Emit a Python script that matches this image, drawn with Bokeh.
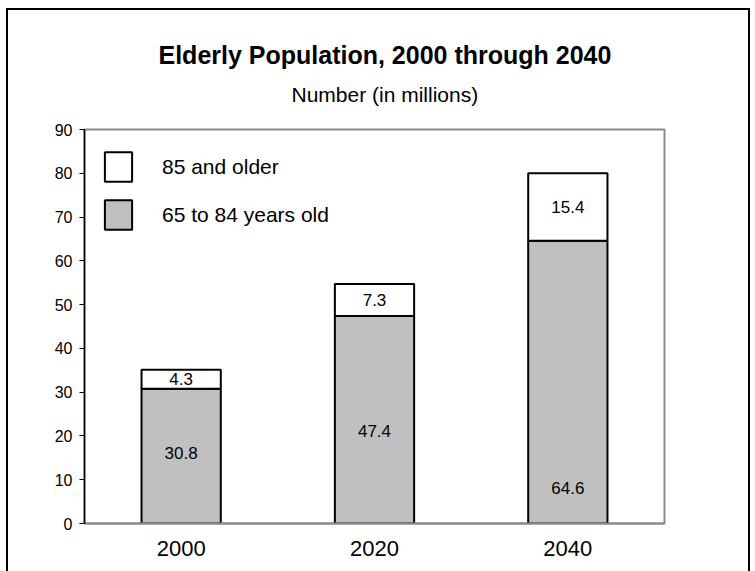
from bokeh.plotting import figure
from bokeh.models import (ColumnDataSource, FactorRange, Legend, LegendItem, Title, LabelSet)
from bokeh.core.properties import value
from bokeh.embed import file_html
from bokeh.resources import INLINE

# ---- data ----
years = ["2000", "2020", "2040"]
age_65_84 = [30.8, 47.4, 64.6]
age_85_plus = [4.3, 7.3, 15.4]
series_names = ["65 to 84 years old", "85 and older"]
y_ticks = [0, 10, 20, 30, 40, 50, 60, 70, 80, 90]
title_text = "Elderly Population, 2000 through 2040"
subtitle_text = "Number (in millions)"

# label positions (y, in millions) of the lower-segment value labels
lower_label_y = [16.0, 21.2, 8.0]

FONT = "Liberation Sans"
GRAY = "#c0c0c0"

src = ColumnDataSource(dict(
    year=years,
    a=age_65_84,
    b=age_85_plus,
    a_lbl=[f"{v:.1f}" for v in age_65_84],
    b_lbl=[f"{v:.1f}" for v in age_85_plus],
    a_y=lower_label_y,
    b_y=[a + b / 2 for a, b in zip(age_65_84, age_85_plus)],
))

p = figure(x_range=FactorRange(*years), y_range=(0, 90),
           width=744, height=571, output_backend="svg", toolbar_location=None,
           min_border_left=76, min_border_right=88, min_border_top=119, min_border_bottom=58,
           styles={"border": "2px solid black", "margin-left": "6px", "margin-top": "8px"})

r = p.vbar_stack(["a", "b"], x="year", width=0.41, source=src,
                 fill_color=[GRAY, "white"], line_color="black", line_width=2)

# value labels
p.add_layout(LabelSet(x="year", y="a_y", text="a_lbl", source=src,
                      text_align="center", text_baseline="middle",
                      text_font=value(FONT), text_font_size="17px", text_color="black"))
p.add_layout(LabelSet(x="year", y="b_y", text="b_lbl", source=src,
                      text_align="center", text_baseline="middle",
                      text_font=value(FONT), text_font_size="17px", text_color="black"))

# axes
p.xgrid.visible = False
p.ygrid.visible = False
p.outline_line_color = "#8a8a8a"
p.outline_line_width = 2

p.yaxis.ticker = y_ticks
p.yaxis.axis_line_color = "black"
p.yaxis.axis_line_width = 1.5
p.yaxis.major_tick_line_color = "black"
p.yaxis.major_tick_out = 5
p.yaxis.major_tick_in = 0
p.yaxis.minor_tick_line_color = None
p.yaxis.major_label_text_font = FONT
p.yaxis.major_label_text_font_size = "16px"
p.yaxis.major_label_text_color = "black"
p.yaxis.major_label_standoff = 7

p.xaxis.axis_line_color = "#8a8a8a"
p.xaxis.axis_line_width = 2
p.xaxis.major_tick_line_color = None
p.xaxis.minor_tick_line_color = None
p.xaxis.major_label_text_font = FONT
p.xaxis.major_label_text_font_size = "22px"
p.xaxis.major_label_text_color = "black"
p.xaxis.major_label_standoff = 11

# legend
legend = Legend(items=[LegendItem(label=series_names[1], renderers=[r[1]]),
                       LegendItem(label=series_names[0], renderers=[r[0]])],
                location=(17, 290), padding=0, margin=0, spacing=11,
                glyph_width=34, glyph_height=37, label_standoff=27,
                label_text_font=FONT, label_text_font_size="21px", label_text_color="black",
                border_line_alpha=0, background_fill_alpha=0)
p.add_layout(legend)

# titles (first added sits closest to the frame); the first one is an empty spacer
p.add_layout(Title(text=" ", standoff=8, text_font=FONT, text_font_size="1px"), "above")
p.add_layout(Title(text=subtitle_text, align="left", offset=207, standoff=25,
                   text_font=FONT, text_font_size="21px", text_font_style="normal",
                   text_color="black"), "above")
p.add_layout(Title(text=title_text, align="left", offset=74, standoff=0,
                   text_font=FONT, text_font_size="25px", text_font_style="bold",
                   text_color="black"), "above")

open("out.html", "w").write(file_html(p, INLINE))
